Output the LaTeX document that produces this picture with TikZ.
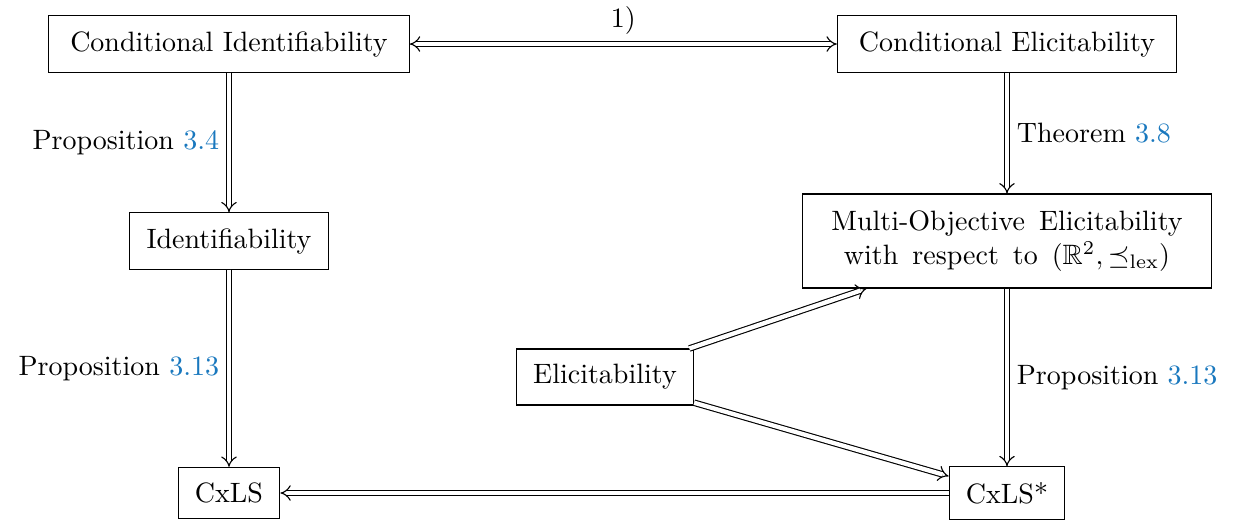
\documentclass[tikz,border=0pt]{standalone}
\usepackage{amssymb}
\usepackage{mathtools}
\usepackage{tikz}
\usetikzlibrary{arrows.meta}
\definecolor{linkblue}{RGB}{25,120,190}
\tikzset{box/.style={draw, inner xsep=6pt, inner ysep=5.5pt, align=center}}
\tikzset{widebox/.style={box, inner xsep=7.7pt}}
\tikzset{implies/.style={double, double equal sign distance, -{Implies}}}
\newcommand\REF[1]{\textcolor{linkblue}{#1}}

\begin{document}
\begin{tikzpicture}[x=0.3571pt, y=-0.3571pt]

\useasboundingbox (0,0) rectangle (1253,523);

%% top row
\node[widebox] (condid) at (229, 44) {Conditional Identifiability};
\node[widebox] (condel) at (1007, 44) {Conditional Elicitability};

%% middle row
\node[box] (ident) at (229, 241) {Identifiability};
\node[box, inner ysep=6pt, text width=134pt] (multi) at (1007, 241)
{\spaceskip=5pt Multi-Objective Elicitability\\with respect to $(\mathbb{R}^2, \preceq_{\mathrm{lex}})$};
\node[box] (elic) at (605, 377) {Elicitability};

%% bottom row
\node[box] (cxls) at (229, 493) {CxLS};
\node[box] (cxlsstar) at (1007, 493) {CxLS*};

\draw[double, double equal sign distance, {Implies}-{Implies}] (condid) -- node[above]{1)} (condel);
\draw[implies] (condid) -- node[left]{Proposition \REF{3.4}} (ident);
\draw[implies] (ident) -- node[left]{Proposition \REF{3.13}} (cxls);
\draw[implies] (condel) -- node[right]{Theorem \REF{3.8}} (multi);
\draw[implies] (multi) -- node[right]{Proposition \REF{3.13}} (cxlsstar);
\draw[implies] (elic) -- (multi);
\draw[implies] (elic) -- (cxlsstar);
\draw[implies] (cxlsstar) -- (cxls);

\end{tikzpicture}
\end{document}
